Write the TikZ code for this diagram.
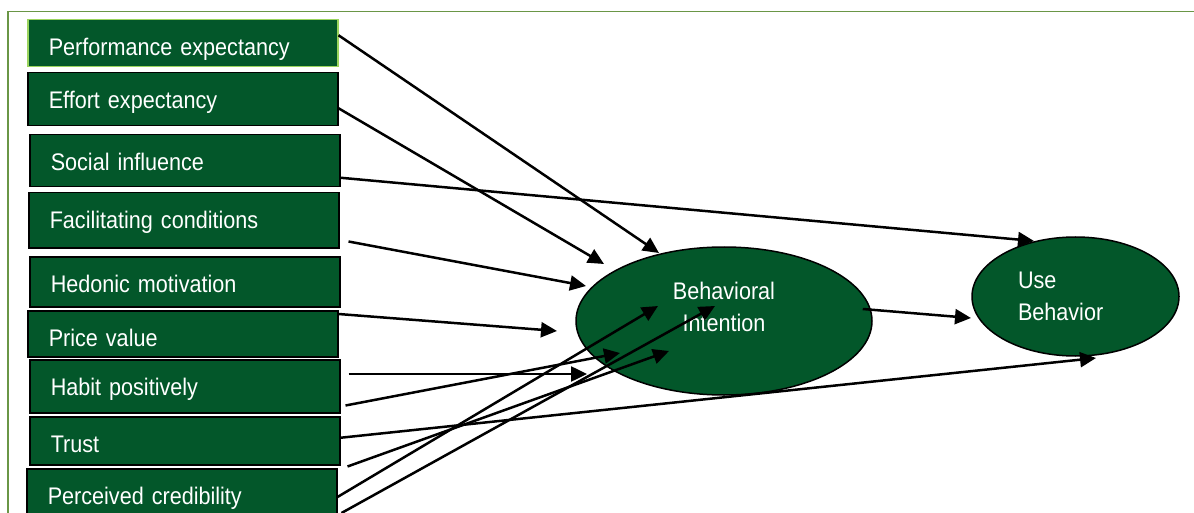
\documentclass[tikz,border=0pt]{standalone}
\usepackage{fontspec}
\setmainfont{Liberation Sans}[FakeStretch=0.9]
\usepackage{xcolor}
\usetikzlibrary{shapes.geometric, arrows.meta, calc}
\definecolor{UT_GREEN}{HTML}{03572A}
\definecolor{UT_LIME}{HTML}{9BD45E}
\definecolor{UT_FRAME}{HTML}{6A9646}
\tikzset{
  factor/.style={
    rectangle, anchor=north west,
    text width=268pt, inner xsep=21pt, inner ysep=0pt,
    text height=36pt, align=left,
    draw=black, line width=1.5pt, fill=UT_GREEN, text=white,
    font=\fontsize{24}{32}\selectfont},
  latent/.style={
    ellipse, inner sep=0pt,
    draw=black, line width=1.5pt, fill=UT_GREEN, text=white,
    font=\fontsize{24}{32}\selectfont},
  frame/.style={draw=UT_FRAME, line width=1.8pt},
  arr/.style={-{Triangle[length=16pt,width=15pt]}, line width=2.5pt, color=black},
}
\begin{document}
\begin{tikzpicture}[x=1pt, y=-1pt]

  \clip (0,0) rectangle (1194,513);
  \draw[frame] (8,530) -- (8,11.5) -- (1210,11.5);

  \node[factor, draw=UT_LIME, text depth=11pt] (pe) at (27,19)  {Performance expectancy};
  \node[factor, text depth=17pt] (ee) at (27,72)  {Effort expectancy};
  \node[factor, text depth=16pt] (si) at (29,134) {Social influence};
  \node[factor, text depth=19pt] (fc) at (28,192) {Facilitating conditions};
  \node[factor, text depth=14pt] (hm) at (29,256) {Hedonic motivation};
  \node[factor, text depth=10pt] (pv) at (27,310) {Price value};
  \node[factor, text depth=17pt] (hp) at (29,359) {Habit positively};
  \node[factor, text depth=12pt] (tr) at (29,416) {Trust};
  \node[factor, text depth=60pt] (pc) at (26,468) {Perceived credibility};

  \node[latent, minimum width=296pt, minimum height=148pt,
        align=center, text depth=28pt] (bi) at (724,321)
    {Behavioral\\Intention};
  \node[latent, minimum width=207pt, minimum height=119pt,
        text width=115pt, align=left] (ub) at (1075.5,296.5)
    {Use\\Behavior};

  \coordinate (bi-a) at (659,253);
  \coordinate (bi-b) at (604,264);
  \coordinate (bi-c) at (586,286);
  \coordinate (bi-d) at (557,331);
  \coordinate (bi-e) at (587,374);
  \coordinate (bi-f) at (620,353);
  \coordinate (bi-g) at (669,351);
  \coordinate (bi-h) at (658,306);
  \coordinate (bi-i) at (715,306);
  \coordinate (ub-a) at (1034,241);
  \coordinate (ub-b) at (1096,358);
  \coordinate (ub-c) at (971,318);

  \draw[arr] ([yshift=8pt]pe.east) -- (bi-a);
  \draw[arr] ([yshift=-9pt]ee.east) -- (bi-b);
  \draw[arr] ([yshift=-17pt]si.east) -- (ub-a);
  \draw[arr] ([xshift=9pt,yshift=7pt]fc.south east) -- (bi-c);
  \draw[arr] ([yshift=-4pt]pv.north east) -- (bi-d);
  \draw[arr] ([xshift=8pt,yshift=-15pt]hp.north east) -- (bi-e);
  \draw[arr] ([xshift=5pt,yshift=8pt]hp.south east) -- (bi-f);
  \draw[arr] ([yshift=3pt]tr.east) -- (ub-b);
  \draw[arr] ([xshift=7pt,yshift=-1pt]tr.south east) -- (bi-g);
  \draw[arr] ([yshift=-29pt]pc.north east) -- (bi-h);
  \draw[arr] ([xshift=4pt,yshift=-45pt]pc.north east) -- (bi-i);
  \draw[arr] ([xshift=-10pt,yshift=12pt]bi.east) -- (ub-c);

\end{tikzpicture}
\end{document}
